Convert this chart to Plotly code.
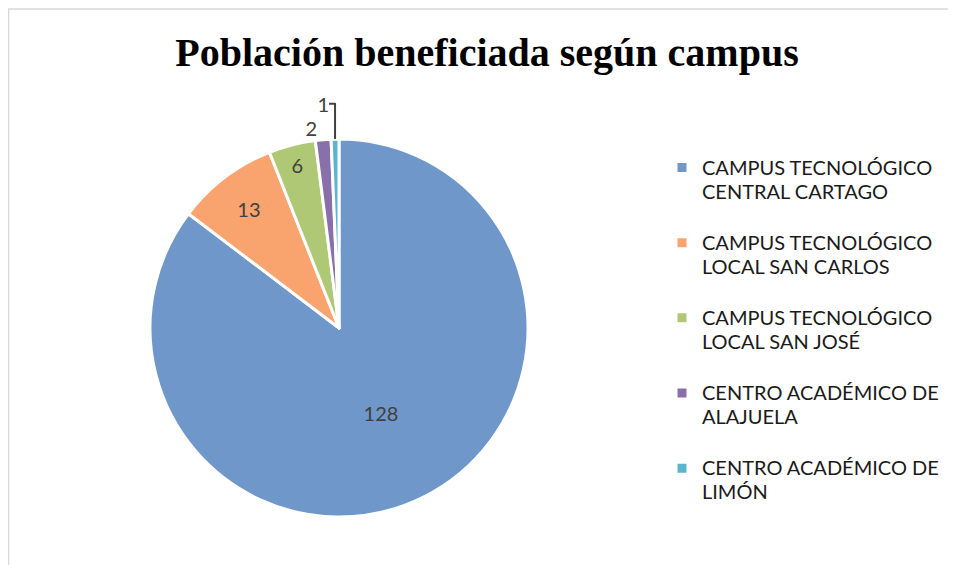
import plotly.graph_objects as go

labels = [
    "CAMPUS TECNOLÓGICO<br>CENTRAL CARTAGO",
    "CAMPUS TECNOLÓGICO<br>LOCAL SAN CARLOS",
    "CAMPUS TECNOLÓGICO<br>LOCAL SAN JOSÉ",
    "CENTRO ACADÉMICO DE<br>ALAJUELA",
    "CENTRO ACADÉMICO DE<br>LIMÓN",
]
values = [128, 13, 6, 2, 1]
colors = ["#7097c9", "#f9a46e", "#afc875", "#8a70aa", "#5db4cc"]
text_positions = ["inside", "inside", "inside", "outside", "outside"]

# figure sits in the page with the browser's default 8px body margin
OFF = 8
W, H = 956 - 2 * OFF, 573 - 2 * OFF
cx, cy, r = 339 - OFF, 328 - OFF, 189


def legend_label(t):
    lines = t.split("<br>")
    body = "<br>".join("<span style='font-size:20px'>%s</span>" % s for s in lines)
    return body + "<br><span style='font-size:1px'> </span>"


fig = go.Figure(go.Pie(
    labels=[legend_label(l) for l in labels],
    values=values,
    sort=False,
    direction="clockwise",
    rotation=0,
    marker=dict(colors=colors, line=dict(color="white", width=3)),
    textinfo="value",
    textposition=text_positions,
    insidetextorientation="horizontal",
    textfont=dict(family="Lato", size=20, color="#404040"),
    outsidetextfont=dict(family="Lato", size=20, color="#404040"),
    domain=dict(x=[(cx - r) / W, (cx + r) / W], y=[1 - (cy + r) / H, 1 - (cy - r) / H]),
    hoverinfo="label+value",
))

fig.update_layout(
    width=W, height=H,
    margin=dict(l=0, r=0, t=0, b=0, autoexpand=False),
    paper_bgcolor="white",
    title=dict(
        text="<b>Población beneficiada según campus</b>",
        xref="container", yref="container",
        x=(487 - OFF) / W, xanchor="center", y=1 - (52 - OFF) / H, yanchor="middle",
        font=dict(family="Liberation Serif", size=40, color="black"),
    ),
    legend=dict(
        xref="container", yref="container",
        x=(662 - OFF) / W, xanchor="left", y=1 - (149 - OFF) / H, yanchor="top",
        valign="top",
        maxheight=1000,
        font=dict(family="Lato", size=18.5, color="#1a1a1a"),
        bgcolor="rgba(0,0,0,0)",
    ),
    shapes=[
        dict(type="line", xref="paper", yref="paper", x0=0, x1=1, y0=1 - 1 / H, y1=1 - 1 / H,
             line=dict(color="#d9d9d9", width=1.5)),
        dict(type="line", xref="paper", yref="paper", x0=0.5 / W, x1=0.5 / W, y0=0, y1=1 - 1 / H,
             line=dict(color="#d9d9d9", width=1.5)),
    ],
)

fig.write_html("out.html")
